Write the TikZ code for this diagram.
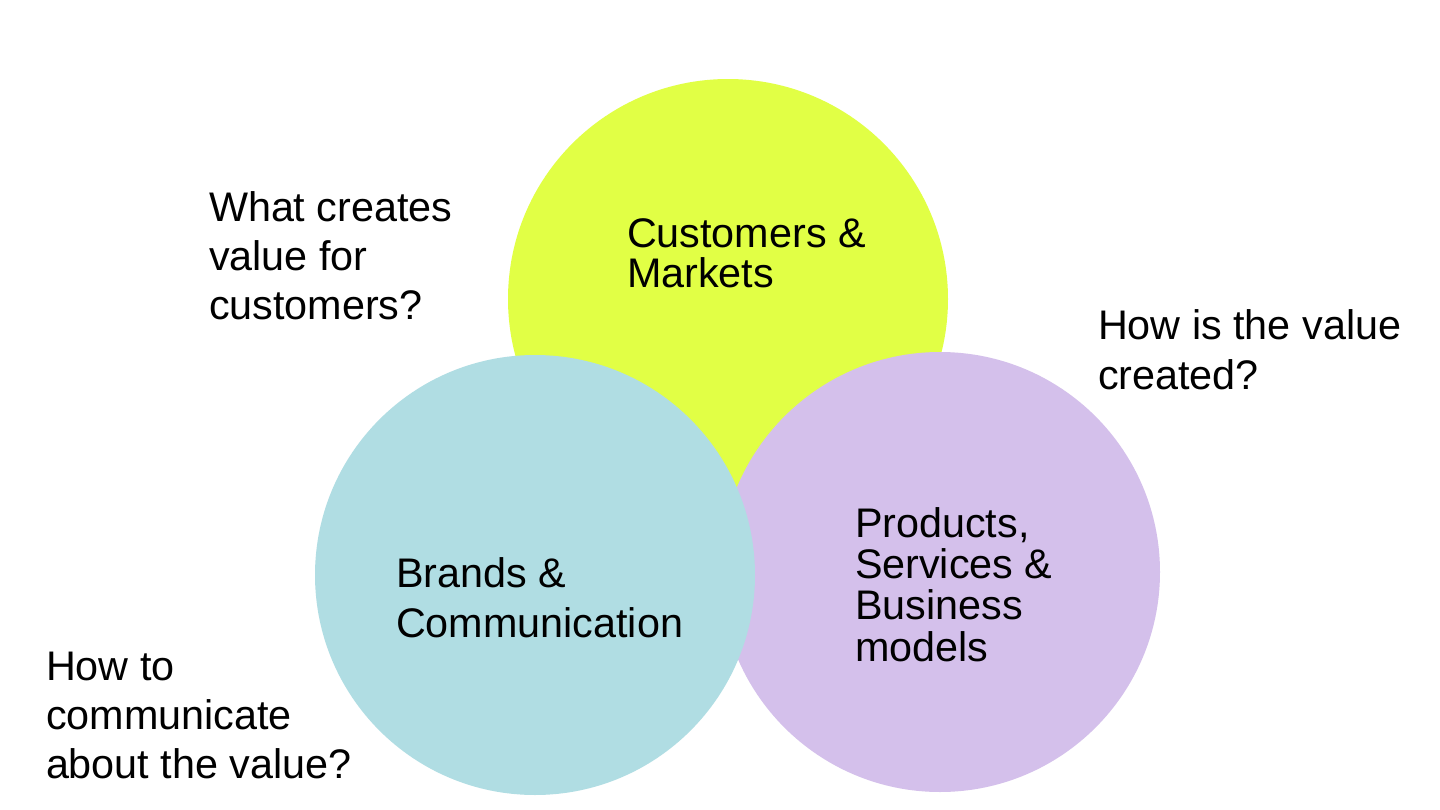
\documentclass[tikz,border=0pt]{standalone}
\usepackage{fontspec}
\setmainfont{Liberation Sans}
\definecolor{cyellow}{RGB}{225,255,69}
\definecolor{cblue}{RGB}{176,221,227}
\definecolor{cpurple}{RGB}{212,192,235}
\newcommand\mylines[2]{\vtop{\baselineskip=#1\relax #2}}
\tikzset{
  bubble/.style={circle, draw=none, inner sep=0pt, minimum size=330pt},
  label/.style={anchor=base west, inner sep=0pt, outer sep=0pt, font=\fontsize{31pt}{37pt}\selectfont}
}
\begin{document}
\begin{tikzpicture}[x=0.75pt,y=-0.75pt]
\useasboundingbox[fill=white] (0,0) rectangle (1440,810);
\node[bubble, fill=cyellow] (cm) at (728,299) {};
\node[bubble, fill=cpurple] (ps) at (940,572) {};
\node[bubble, fill=cblue] (bc) at (535,575) {};
\node[label] (q1) at (209,221) {\mylines{36.75pt}{\hbox{What creates}\hbox{value for}\hbox{customers?}}};
\node[label] (t1) at (627,247) {\mylines{30.5pt}{\hbox{Customers \&}\hbox{Markets}}};
\node[label] (q2) at (1098,339) {\mylines{37.5pt}{\hbox{How is the value}\hbox{created?}}};
\node[label] (t2) at (855,537) {\mylines{31.1pt}{\hbox{Products,}\hbox{Services \&}\hbox{Business}\hbox{models}}};
\node[label] (t3) at (396,587) {\mylines{37.5pt}{\hbox{Brands \&}\hbox{Communication}}};
\node[label] (q3) at (46,680) {\mylines{36.75pt}{\hbox{How to}\hbox{communicate}\hbox{about the value?}}};
\end{tikzpicture}
\end{document}
